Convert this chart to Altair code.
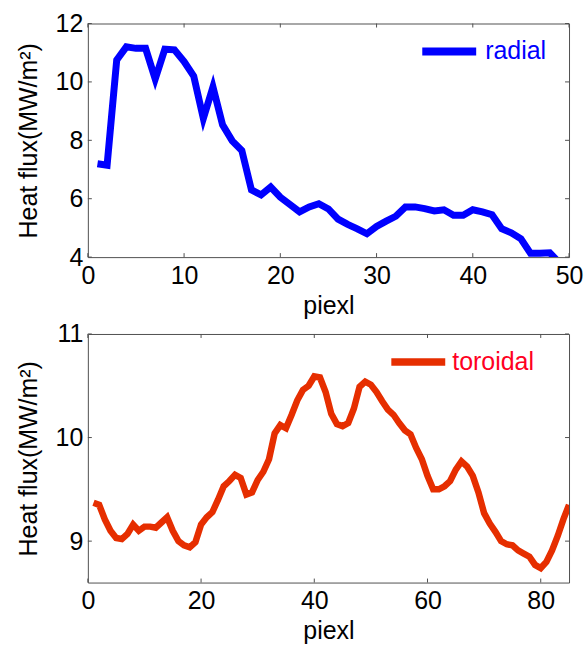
import altair as alt
import pandas as pd

# ---------------- data ----------------
radial_x = list(range(1, 50))
radial_y = [7.2, 7.15, 10.75, 11.2, 11.15, 11.15, 10.1, 11.12, 11.1, 10.7,
            10.2, 8.75, 9.83, 8.53, 7.98, 7.65, 6.3, 6.13, 6.4, 6.05,
            5.8, 5.55, 5.72, 5.83, 5.65, 5.3, 5.12, 4.97, 4.8, 5.05,
            5.23, 5.4, 5.72, 5.72, 5.66, 5.58, 5.62, 5.43, 5.43, 5.62,
            5.55, 5.45, 4.97, 4.83, 4.63, 4.13, 4.13, 4.15, 3.8]

toroidal_x = list(range(1, 86))
toroidal_y = [9.37, 9.35, 9.21, 9.10, 9.03, 9.02, 9.07, 9.16, 9.10, 9.14,
              9.14, 9.13, 9.18, 9.23, 9.10, 9.00, 8.96, 8.94, 8.99, 9.16,
              9.23, 9.28, 9.40, 9.53, 9.58, 9.64, 9.61, 9.45, 9.47, 9.59,
              9.67, 9.79, 10.04, 10.12, 10.09, 10.22, 10.36, 10.46, 10.50, 10.59,
              10.58, 10.44, 10.23, 10.13, 10.11, 10.14, 10.28, 10.49, 10.54, 10.51,
              10.44, 10.35, 10.27, 10.22, 10.14, 10.07, 10.03, 9.90, 9.79, 9.63,
              9.50, 9.50, 9.53, 9.58, 9.69, 9.77, 9.72, 9.63, 9.47, 9.27,
              9.17, 9.09, 9.00, 8.97, 8.96, 8.91, 8.88, 8.85, 8.77, 8.74,
              8.80, 8.91, 9.05, 9.21, 9.35]

top_x_ticks = [0, 10, 20, 30, 40, 50]
top_y_ticks = [4, 6, 8, 10, 12]
bot_x_ticks = [0, 20, 40, 60, 80]
bot_y_ticks = [9, 10, 11]

x_title = "piexl"
y_title = "Heat flux(MW/m²)"

FONT = "Liberation Sans"
FRAME = "#505050"
TICK = 4


def panel(xs, ys, name, line_color, text_color, xdom, ydom, xt, yt,
          w, h, sw, lx, ly, loff):
    df = pd.DataFrame({"x": xs, "y": ys, "series": [name] * len(xs)})
    xscale = alt.Scale(domain=xdom, nice=False, zero=False)
    yscale = alt.Scale(domain=ydom, nice=False, zero=False)
    line = alt.Chart(df).mark_line(strokeWidth=sw, clip=True).encode(
        x=alt.X("x:Q", scale=xscale,
                axis=alt.Axis(values=xt, title=x_title, labelPadding=6,
                              titlePadding=5, format="d")),
        y=alt.Y("y:Q", scale=yscale,
                axis=alt.Axis(values=yt, title=y_title, labelPadding=5,
                              titlePadding=14, format="d")),
        color=alt.Color("series:N",
                        scale=alt.Scale(domain=[name], range=[line_color]),
                        legend=alt.Legend(orient="none", legendX=lx, legendY=ly,
                                          title=None, symbolType="stroke",
                                          symbolSize=2916, symbolStrokeWidth=sw + 1,
                                          labelFontSize=25, labelFont=FONT,
                                          labelColor=text_color, labelOffset=loff,
                                          padding=0)),
    )
    xdf = pd.DataFrame({"x": xt})
    ydf = pd.DataFrame({"y": yt})
    rule = dict(color=FRAME, strokeWidth=1)
    bx = alt.Chart(xdf).mark_rule(**rule).encode(
        x=alt.X("x:Q", scale=xscale),
        y=alt.value(h), y2=alt.value(h - TICK))
    tx = alt.Chart(xdf).mark_rule(**rule).encode(
        x=alt.X("x:Q", scale=xscale),
        y=alt.value(0), y2=alt.value(TICK))
    ly_ = alt.Chart(ydf).mark_rule(**rule).encode(
        y=alt.Y("y:Q", scale=yscale),
        x=alt.value(0), x2=alt.value(TICK))
    ry = alt.Chart(ydf).mark_rule(**rule).encode(
        y=alt.Y("y:Q", scale=yscale),
        x=alt.value(w - TICK), x2=alt.value(w))
    return alt.layer(line, bx, tx, ly_, ry).properties(width=w, height=h)


top = panel(radial_x, radial_y, "radial", "#0000FF", "#0000FF",
            [0, 50], [4, 12], top_x_ticks, top_y_ticks,
            482, 234, 7, 331, -3, 5)
bottom = panel(toroidal_x, toroidal_y, "toroidal", "#E62E00", "#FF0022",
               [0, 85], [8.6, 11], bot_x_ticks, bot_y_ticks,
               482, 249, 6.5, 300, -3, 3)

chart = alt.vconcat(top, bottom, spacing=77, bounds="flush").resolve_scale(
    color="independent", x="independent", y="independent"
).properties(
    padding={"left": 15, "top": 10, "right": 0, "bottom": 2}
).configure_view(
    stroke=FRAME, strokeWidth=1
).configure_axis(
    labelFont=FONT, labelFontSize=25, labelColor="#000000",
    titleFont=FONT, titleFontSize=25, titleFontWeight="normal",
    titleColor="#000000", ticks=False, domain=False, grid=False,
    labelFlush=False, labelOverlap=False
)

chart.save("out.html", embed_options={"renderer": "svg", "actions": False})
